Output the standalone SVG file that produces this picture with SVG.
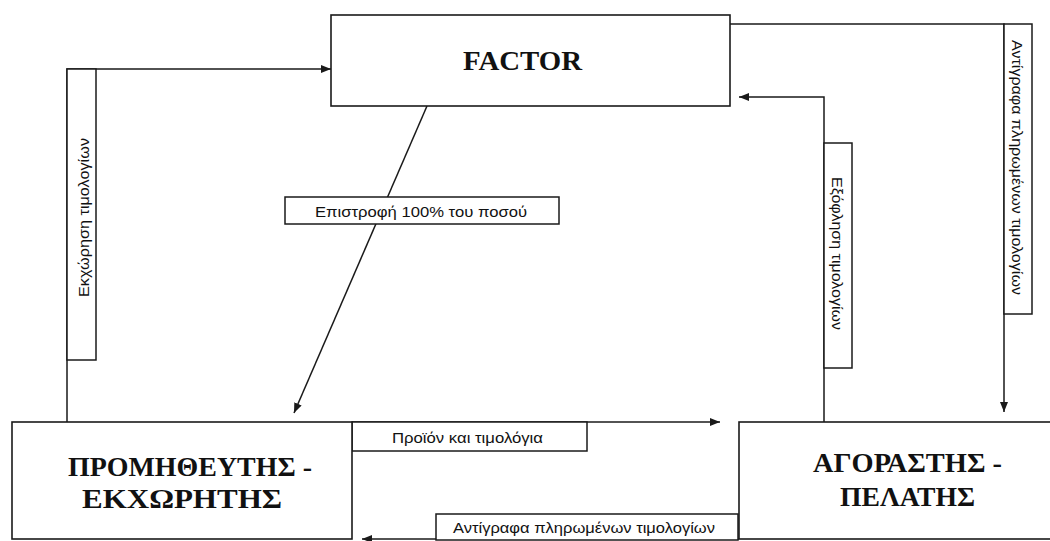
<svg xmlns="http://www.w3.org/2000/svg" width="1050" height="541" viewBox="0 0 1050 541">
  <style>
    .node { fill: #ffffff; stroke: #1a1a1a; stroke-width: 1.6; }
    .lbox { fill: #ffffff; stroke: #1a1a1a; stroke-width: 1.5; }
    .wire { fill: none; stroke: #1a1a1a; stroke-width: 1.5; }
    .big { font-family: "Liberation Serif", "Times New Roman", serif; font-weight: bold; fill: #111111; }
    .small { font-family: "Liberation Sans", Arial, sans-serif; font-size: 15px; fill: #111111; }
  </style>
  <defs>
    <marker id="arrow" markerUnits="userSpaceOnUse" markerWidth="11" markerHeight="8" refX="10" refY="4" orient="auto">
      <path d="M0,0 L10,4 L0,8 z" fill="#1a1a1a"/>
    </marker>
  </defs>
  <rect width="1050" height="541" fill="#ffffff"/>

  <g id="connectors">
    <!-- Εκχώρηση τιμολογίων: supplier -> factor -->
    <polyline class="wire" points="67,422 67,69 331,69" marker-end="url(#arrow)"/>
    <rect class="lbox" x="67" y="69" width="29" height="291"/>
    <text class="small" transform="translate(89,297) rotate(-90)" textLength="159" lengthAdjust="spacingAndGlyphs">Εκχώρηση τιμολογίων</text>

    <!-- Αντίγραφα πληρωμένων τιμολογίων: factor -> buyer -->
    <polyline class="wire" points="730,24 1004,24 1004,412" marker-end="url(#arrow)"/>
    <rect class="lbox" x="1004" y="24" width="28" height="290"/>
    <text class="small" transform="translate(1012,40) rotate(90)" textLength="255" lengthAdjust="spacingAndGlyphs">Αντίγραφα πληρωμένων τιμολογίων</text>

    <!-- Εξόφληση τιμολογίων: buyer -> factor -->
    <polyline class="wire" points="824,422 824,97 739,97" marker-end="url(#arrow)"/>
    <rect class="lbox" x="824" y="143" width="28" height="225"/>
    <text class="small" transform="translate(832,177) rotate(90)" textLength="153" lengthAdjust="spacingAndGlyphs">Εξόφληση τιμολογίων</text>

    <!-- Επιστροφή 100% του ποσού: factor -> supplier -->
    <line class="wire" x1="427" y1="106" x2="294" y2="413" marker-end="url(#arrow)"/>
    <rect class="lbox" x="285" y="197" width="274" height="27"/>
    <text class="small" x="315" y="217" textLength="212" lengthAdjust="spacingAndGlyphs">Επιστροφή 100% του ποσού</text>

    <!-- Προϊόν και τιμολόγια: supplier -> buyer -->
    <line class="wire" x1="352" y1="422" x2="720" y2="422" marker-end="url(#arrow)"/>
    <rect class="lbox" x="352" y="422" width="235" height="29"/>
    <text class="small" x="392" y="443" textLength="151" lengthAdjust="spacingAndGlyphs">Προϊόν και τιμολόγια</text>

    <!-- Αντίγραφα πληρωμένων τιμολογίων: buyer -> supplier -->
    <line class="wire" x1="739" y1="539" x2="362" y2="539" marker-end="url(#arrow)"/>
    <rect class="lbox" x="436" y="514" width="302" height="26"/>
    <text class="small" x="453" y="533" textLength="262" lengthAdjust="spacingAndGlyphs">Αντίγραφα πληρωμένων τιμολογίων</text>
  </g>

  <g id="factor">
    <rect class="node" x="331" y="15" width="399" height="91"/>
    <text class="big" x="463" y="70" font-size="28" textLength="119" lengthAdjust="spacingAndGlyphs">FACTOR</text>
  </g>

  <g id="supplier">
    <rect class="node" x="12" y="422" width="340" height="117"/>
    <text class="big" x="68" y="476" font-size="28" textLength="244" lengthAdjust="spacingAndGlyphs">ΠΡΟΜΗΘΕΥΤΗΣ -</text>
    <text class="big" x="82" y="508" font-size="28" textLength="200" lengthAdjust="spacingAndGlyphs">ΕΚΧΩΡΗΤΗΣ</text>
  </g>

  <g id="buyer">
    <rect class="node" x="739" y="422" width="340" height="117"/>
    <text class="big" x="813" y="472" font-size="28" textLength="189" lengthAdjust="spacingAndGlyphs">ΑΓΟΡΑΣΤΗΣ -</text>
    <text class="big" x="840" y="506" font-size="28" textLength="135" lengthAdjust="spacingAndGlyphs">ΠΕΛΑΤΗΣ</text>
  </g>
</svg>
